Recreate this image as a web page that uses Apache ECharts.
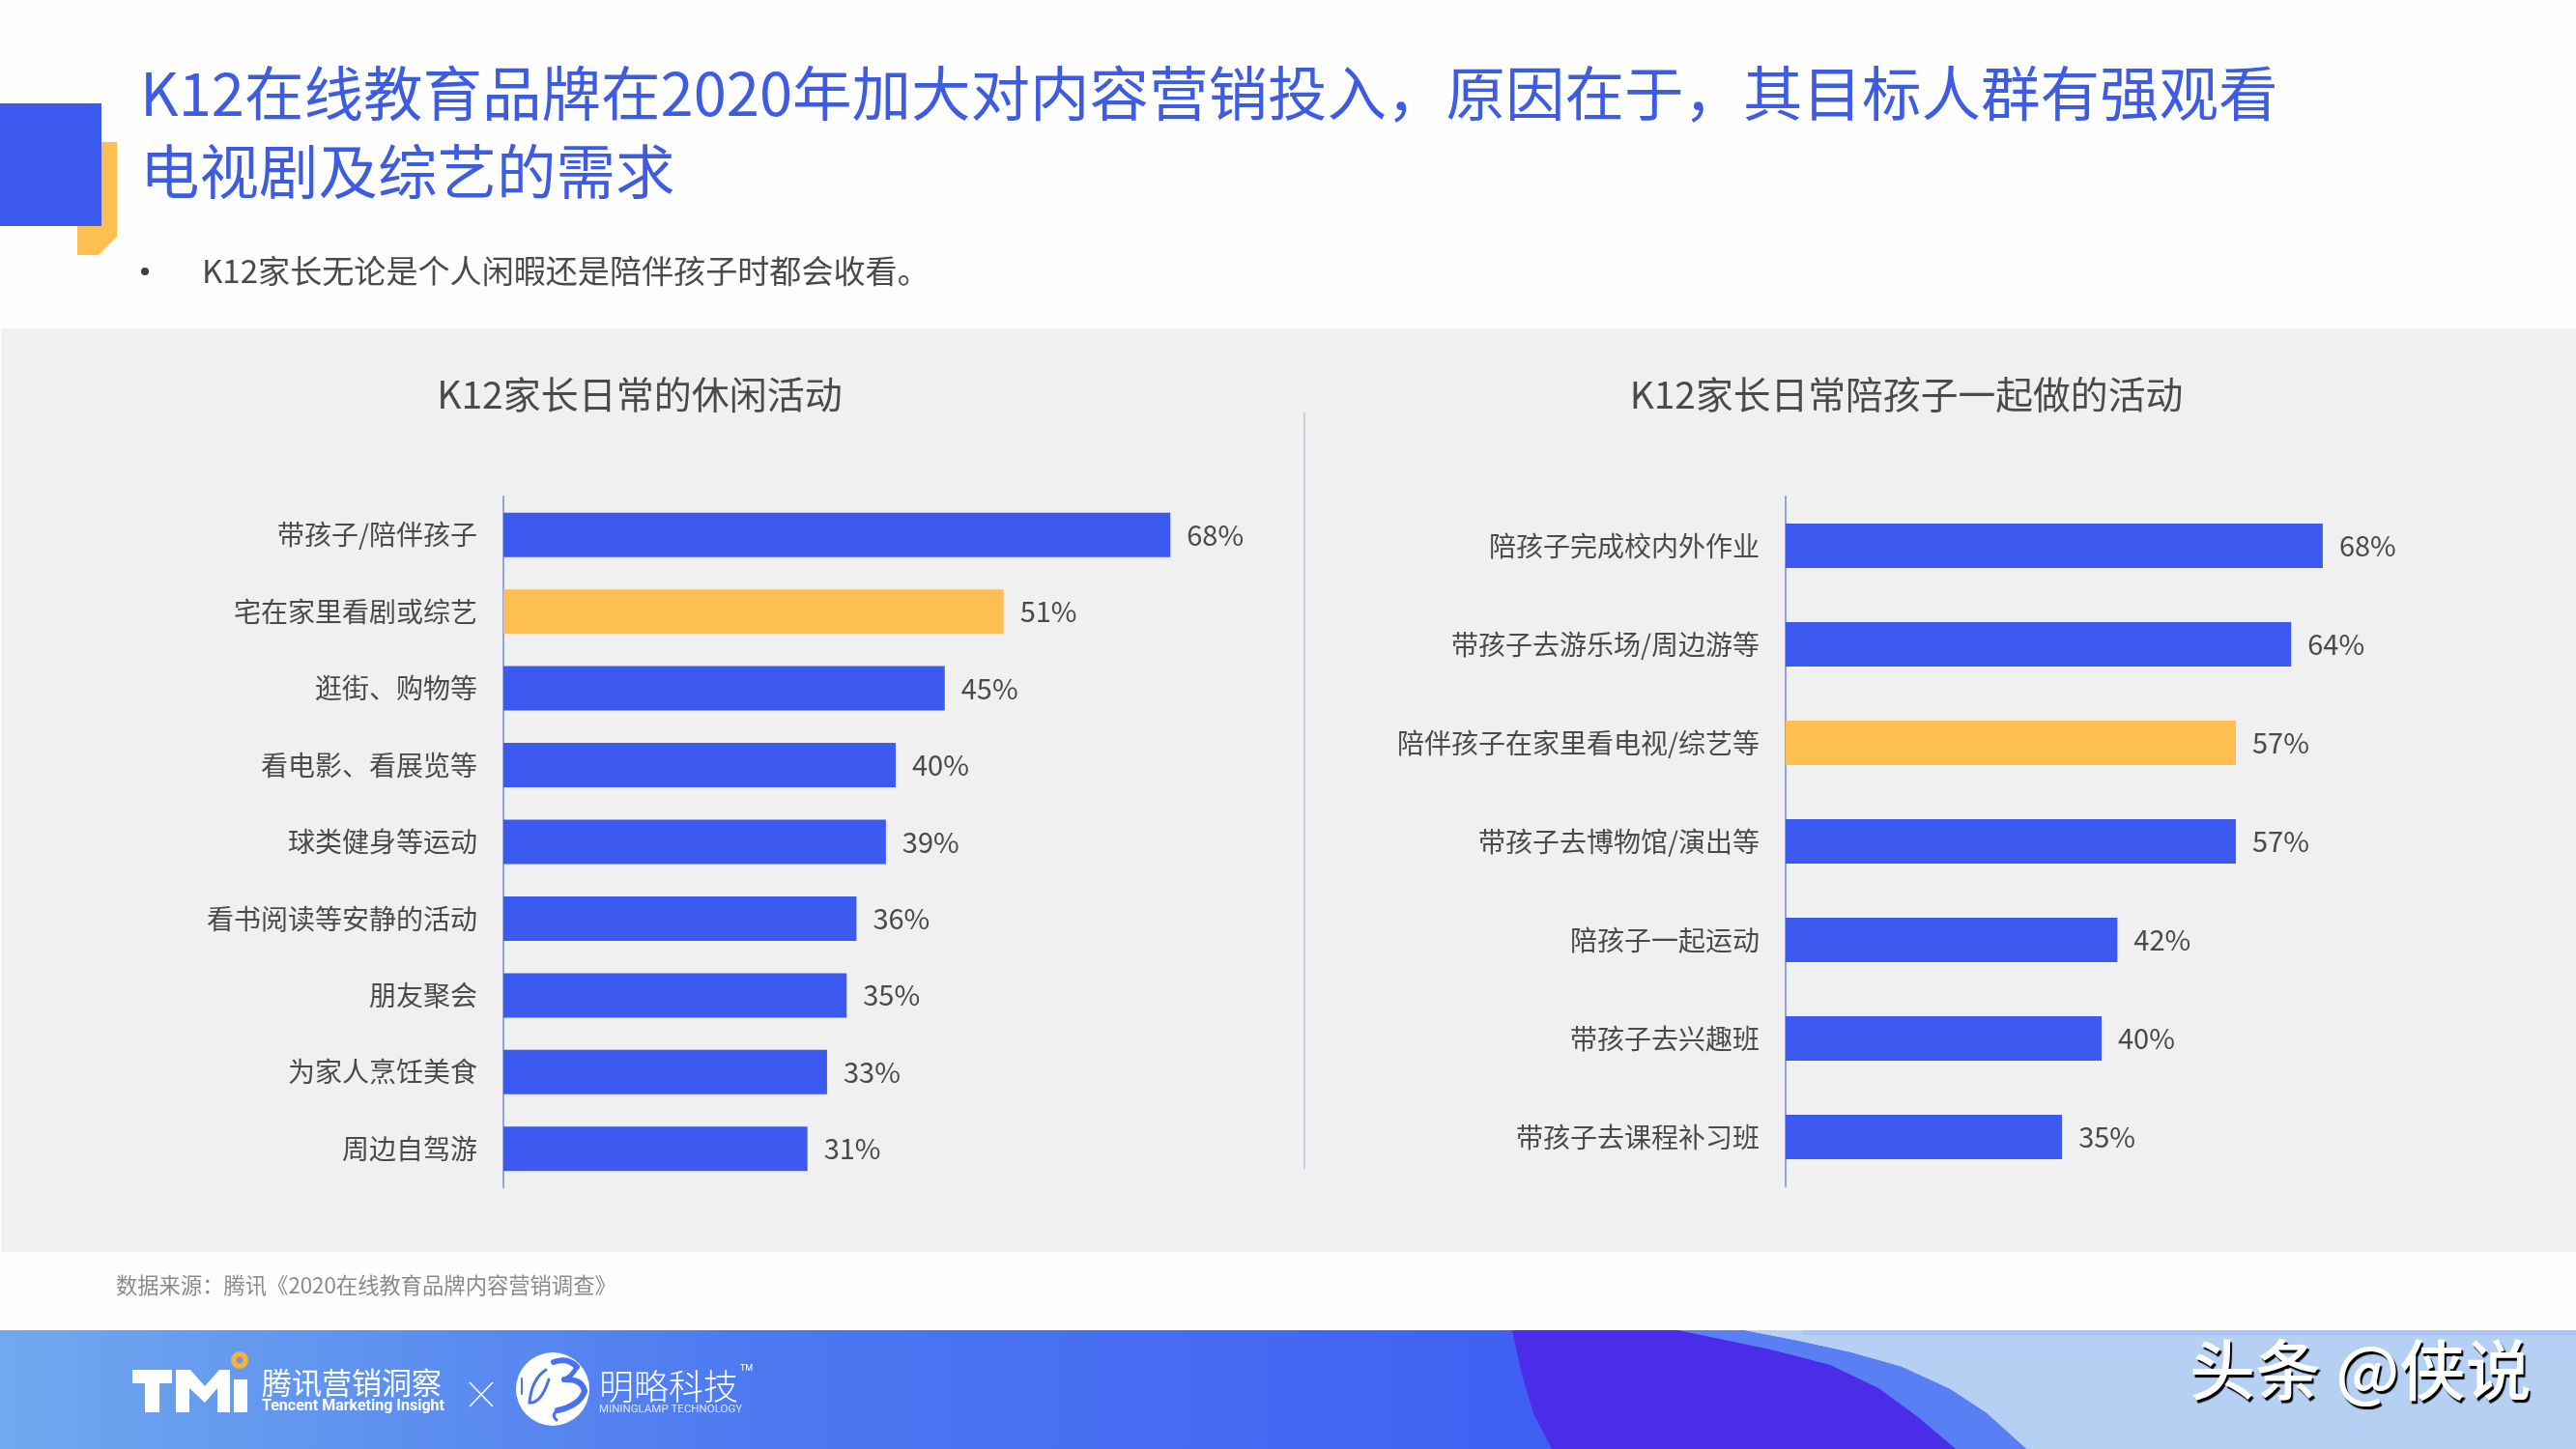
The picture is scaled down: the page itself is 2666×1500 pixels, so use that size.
<!DOCTYPE html>
<html>
<head>
<meta charset="utf-8">
<title>K12</title>
<script src="https://cdn.jsdelivr.net/npm/echarts@6/dist/echarts.min.js"></script>
<style>
html, body {margin: 0; padding: 0; background: #fefefe;}
#main {width: 2666px; height: 1500px;}
</style>
</head>
<body>
<div id="main"></div>
<script>
const headline = "K12在线教育品牌在2020年加大对内容营销投入，原因在于，其目标人群有强观看\n电视剧及综艺的需求";
const subline = "K12家长无论是个人闲暇还是陪伴孩子时都会收看。";
const sourceNote = "数据来源：腾讯《2020在线教育品牌内容营销调查》";

const leftTitle = "K12家长日常的休闲活动";
const leftCategories = ["带孩子/陪伴孩子", "宅在家里看剧或综艺", "逛街、购物等", "看电影、看展览等", "球类健身等运动", "看书阅读等安静的活动", "朋友聚会", "为家人烹饪美食", "周边自驾游"];
const leftValues = [68, 51, 45, 40, 39, 36, 35, 33, 31];
const leftHighlight = "宅在家里看剧或综艺";

const rightTitle = "K12家长日常陪孩子一起做的活动";
const rightCategories = ["陪孩子完成校内外作业", "带孩子去游乐场/周边游等", "陪伴孩子在家里看电视/综艺等", "带孩子去博物馆/演出等", "陪孩子一起运动", "带孩子去兴趣班", "带孩子去课程补习班"];
const rightValues = [68, 64, 57, 57, 42, 40, 35];
const rightHighlight = "陪伴孩子在家里看电视/综艺等";

const BLUE = "#3c5af0";
const YELLOW = "#fdbf52";
const TEXT = "#4a4a4a";
const FONT = '"Noto Sans CJK SC", "Noto Sans", sans-serif';

// footer wave outlines, top to bottom
const waveOuter = [[1803, 1377], [1860, 1388], [1915, 1400], [1968, 1415], [2018, 1438], [2056, 1463], [2097, 1500]];
const waveInner = [[1736, 1377], [1832, 1397], [1894, 1413], [1944, 1437], [1985, 1467], [2024, 1500]];
const waveLeft = [[1565, 1377], [1575, 1423], [1587, 1463], [1606, 1500]];

const chart = echarts.init(document.getElementById("main"));

function yAxisFor(gridIndex, categories) {
    return {
        type: "category",
        gridIndex,
        inverse: true,
        data: categories,
        axisTick: {show: false},
        axisLine: {lineStyle: {color: "#8fa5e2", width: 2}},
        axisLabel: {color: TEXT, fontSize: 28, fontFamily: FONT, fontWeight: 400, margin: 27}
    };
}

function barSeries(index, values, categories, highlight) {
    return {
        type: "bar",
        xAxisIndex: index,
        yAxisIndex: index,
        barWidth: 46,
        silent: true,
        data: values.map((value, i) => ({
            value,
            itemStyle: {color: categories[i] === highlight ? YELLOW : BLUE}
        })),
        label: {
            show: true,
            position: "right",
            distance: 17,
            formatter: "{c}%",
            color: TEXT,
            fontSize: 29,
            fontFamily: FONT,
            fontWeight: 400
        }
    };
}

function footerText(text, x, y, size, extra) {
    return {
        type: "text",
        x,
        y,
        style: Object.assign({
            text,
            fill: "#fff",
            fontSize: size,
            fontFamily: FONT,
            textAlign: "left",
            textVerticalAlign: "middle"
        }, extra || {})
    };
}

function logoStroke(x1, y1, cpx1, cpy1, x2, y2, lineWidth) {
    return {
        type: "bezierCurve",
        shape: {x1, y1, cpx1, cpy1, x2, y2},
        style: {stroke: "#4a72f0", lineWidth, fill: "none", lineCap: "round"}
    };
}

chart.setOption({
    animation: false,
    backgroundColor: "#fefefe",
    title: [
        {
            text: headline,
            left: 140,
            top: 51,
            textStyle: {color: "#3d5ce2", fontSize: 61.5, fontFamily: FONT, fontWeight: 400, lineHeight: 81}
        },
        {
            text: leftTitle,
            left: 657,
            top: 403,
            textAlign: "center",
            textVerticalAlign: "middle",
            textStyle: {color: TEXT, fontSize: 39, fontFamily: FONT, fontWeight: 400}
        },
        {
            text: rightTitle,
            left: 1968,
            top: 403,
            textAlign: "center",
            textVerticalAlign: "middle",
            textStyle: {color: TEXT, fontSize: 38.8, fontFamily: FONT, fontWeight: 400}
        }
    ],
    grid: [
        {left: 521, top: 514, width: 812, height: 715},
        {left: 1848, top: 514, width: 654, height: 714}
    ],
    xAxis: [
        {type: "value", gridIndex: 0, min: 0, max: 80, show: false},
        {type: "value", gridIndex: 1, min: 0, max: 80, show: false}
    ],
    yAxis: [yAxisFor(0, leftCategories), yAxisFor(1, rightCategories)],
    series: [
        barSeries(0, leftValues, leftCategories, leftHighlight),
        barSeries(1, rightValues, rightCategories, rightHighlight)
    ],
    graphic: [
        // page furniture
        {type: "rect", z: -5, shape: {x: 1, y: 340, width: 2665, height: 956}, style: {fill: "#f0f0f0"}},
        {type: "polygon", z: -4, shape: {points: [[80, 147], [121, 147], [121, 245], [102, 264], [80, 264]]}, style: {fill: YELLOW}},
        {type: "rect", z: -3, shape: {x: 0, y: 107, width: 105, height: 127}, style: {fill: BLUE}},
        {type: "circle", shape: {cx: 150, cy: 281, r: 4}, style: {fill: "#404040"}},
        {
            type: "text", x: 209, y: 280,
            style: {text: subline, fill: TEXT, fontSize: 33.1, fontFamily: FONT, fontWeight: 400, textVerticalAlign: "middle"}
        },
        {type: "line", shape: {x1: 1350, y1: 427, x2: 1350, y2: 1210}, style: {stroke: "#c9d1de", lineWidth: 2}},
        {
            type: "text", x: 120, y: 1331,
            style: {text: sourceNote, fill: "#8a8a8a", fontSize: 22.3, fontFamily: FONT, fontWeight: 400, textVerticalAlign: "middle"}
        },
        // footer band
        {
            type: "rect", z: -5,
            shape: {x: 0, y: 1377, width: 2666, height: 123},
            style: {fill: new echarts.graphic.LinearGradient(0, 0, 1, 0, [
                {offset: 0, color: "#70a9ee"},
                {offset: 0.3, color: "#4c78f0"},
                {offset: 0.6, color: "#3f60f3"},
                {offset: 1, color: "#3f60f3"}
            ])}
        },
        {
            type: "polygon", z: -4,
            shape: {points: [...waveOuter, [2666, 1500], [2666, 1377]]},
            style: {fill: "#b5d0f3"}
        },
        {type: "rect", z: -4, shape: {x: 1865, y: 1377, width: 801, height: 5}, style: {fill: "#a9c4f8"}},
        {
            type: "polygon", z: -3,
            shape: {points: [...waveOuter, ...[...waveInner].reverse()]},
            style: {fill: "#5a7ef3"}
        },
        {
            type: "polygon", z: -3,
            shape: {points: [...waveInner, ...[...waveLeft].reverse()]},
            style: {fill: "#4b2ce8"}
        },
        // TMi logo
        {type: "rect", shape: {x: 137, y: 1418, width: 41, height: 14}, style: {fill: "#fff"}},
        {type: "rect", shape: {x: 150, y: 1418, width: 15, height: 44}, style: {fill: "#fff"}},
        {
            type: "polygon",
            shape: {points: [[182, 1462], [182, 1418], [197, 1418], [212, 1435], [227, 1418], [238, 1418], [238, 1462], [225, 1462], [225, 1437], [212, 1452], [196, 1437], [196, 1462]]},
            style: {fill: "#fff"}
        },
        {type: "rect", shape: {x: 242, y: 1428, width: 14, height: 34}, style: {fill: "#fff"}},
        {type: "circle", shape: {cx: 248, cy: 1408, r: 9}, style: {fill: "#f2b63f"}},
        {type: "circle", shape: {cx: 248, cy: 1408, r: 3.5}, style: {fill: "#8a90cf"}},
        footerText("腾讯营销洞察", 271, 1431, 31),
        footerText("Tencent Marketing Insight", 271, 1456, 16, {fontFamily: "Roboto, sans-serif", fontWeight: 700}),
        {type: "line", shape: {x1: 486, y1: 1431, x2: 510, y2: 1456}, style: {stroke: "#fff", lineWidth: 1.5}},
        {type: "line", shape: {x1: 510, y1: 1431, x2: 486, y2: 1456}, style: {stroke: "#fff", lineWidth: 1.5}},
        // Mininglamp logo
        {type: "circle", shape: {cx: 572, cy: 1438, r: 38}, style: {fill: "#fff"}},
        logoStroke(540, 1427, 540, 1435, 540, 1443, 2),
        logoStroke(565, 1418, 550, 1428, 548, 1452, 3),
        logoStroke(548, 1452, 560, 1453, 568, 1428, 3),
        logoStroke(573, 1410, 588, 1405, 597, 1415, 6),
        logoStroke(597, 1415, 592, 1425, 584, 1428, 5),
        logoStroke(584, 1428, 602, 1427, 605, 1440, 6),
        logoStroke(605, 1440, 600, 1455, 577, 1460, 6),
        logoStroke(577, 1460, 570, 1465, 576, 1470, 3),
        footerText("明略科技", 620, 1435, 36, {fontWeight: 300}),
        footerText("MININGLAMP TECHNOLOGY", 620, 1459, 11.5, {fontFamily: "Roboto, sans-serif", fill: "#dbe6ff"}),
        footerText("TM", 766, 1417, 9, {fontFamily: "Roboto, sans-serif"}),
        // watermark
        {
            type: "text", x: 2266, y: 1418,
            style: {
                text: "头条 @侠说",
                fill: "#fff",
                fontSize: 68,
                fontFamily: FONT,
                fontWeight: 500,
                textVerticalAlign: "middle",
                textShadowColor: "#000",
                textShadowBlur: 1,
                textShadowOffsetX: 2,
                textShadowOffsetY: 3
            }
        }
    ]
});

window.addEventListener("resize", () => chart.resize());
</script>
</body>
</html>
